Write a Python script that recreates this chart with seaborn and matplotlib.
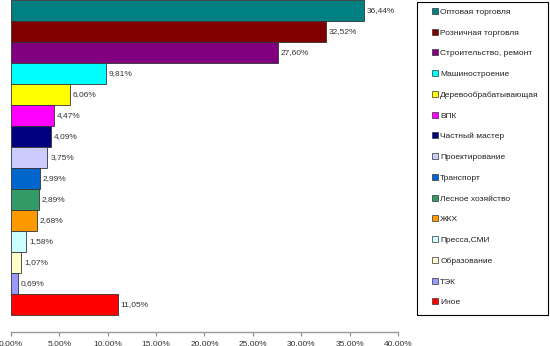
import matplotlib
matplotlib.use("Agg")
import matplotlib.pyplot as plt
from matplotlib.lines import Line2D
from matplotlib.patches import Rectangle
from matplotlib.ticker import FuncFormatter
import seaborn as sns
import pandas as pd

categories = [
    "Оптовая торговля", "Розничная торговля", "Строительство, ремонт",
    "Машиностроение", "Деревообрабатывающая", "ВПК", "Частный мастер",
    "Проектирование", "Транспорт", "Лесное хозяйство", "ЖКХ",
    "Пресса,СМИ", "Образование", "ТЭК", "Иное",
]
shares = [36.44, 32.52, 27.60, 9.81, 6.06, 4.47, 4.09, 3.75,
          2.99, 2.89, 2.68, 1.58, 1.07, 0.69, 11.05]
colors = ["#008080", "#800000", "#800080", "#00FFFF", "#FFFF00", "#FF00FF",
          "#000080", "#CCCCFF", "#0066CC", "#339966", "#FF9900", "#CCFFFF",
          "#FFFFCC", "#9999FF", "#FF0000"]
ticks = [0, 5, 10, 15, 20, 25, 30, 35, 40]

df = pd.DataFrame({"cat": categories, "share": shares})

sns.set_theme(style="white")
plt.rcParams["font.family"] = ["Liberation Sans", "DejaVu Sans"]

W, H = 550, 346
fig = plt.figure(figsize=(W / 100, H / 100), dpi=100)
ax = fig.add_axes([0.02, 0.0405, 0.7036, 0.9595])

sns.barplot(data=df, y="cat", x="share", hue="cat", palette=colors,
            order=categories, hue_order=categories, dodge=False,
            width=1.0, saturation=1, edgecolor="#333333", linewidth=0.6,
            legend=False, ax=ax)

for i, v in enumerate(shares):
    ax.text(v + 0.3, i, f"{v:.2f}%".replace(".", ","), va="center", ha="left",
            fontsize=6, color="#333333")

ax.set_xlim(0, 40)
ax.set_ylim(15.3, -0.5)
ax.set_xticks(ticks)
ax.xaxis.set_major_formatter(FuncFormatter(lambda x, p: f"{x:.2f}%".replace(".", ",")))
ax.tick_params(axis="x", labelsize=6, colors="#888888", labelcolor="#333333",
               length=3, width=0.8, direction="out", bottom=True, pad=3)
ax.set_yticks([])
ax.set_xlabel("")
ax.set_ylabel("")
for s in ["left", "top", "right"]:
    ax.spines[s].set_visible(False)
ax.spines["bottom"].set_color("#999999")
ax.spines["bottom"].set_linewidth(1.0)

# legend frame drawn separately so the entries can be inset freely
fig.patches.append(Rectangle((417 / W, 1 - 315 / H), (548 - 417) / W, (315 - 2) / H,
                             transform=fig.transFigure, facecolor="white",
                             edgecolor="#000000", linewidth=0.8, zorder=0))

handles = [Line2D([0], [0], marker="s", linestyle="none", markersize=4,
                  markerfacecolor=c, markeredgecolor="#333333", markeredgewidth=0.5)
           for c in colors]
leg = fig.legend(handles, categories, loc="upper left",
                 bbox_to_anchor=(432 / W, 1 - 8 / H), fontsize=6, frameon=False,
                 labelspacing=1.55, handlelength=0.7, handletextpad=0.3,
                 borderpad=0, borderaxespad=0)
for t in leg.get_texts():
    t.set_color("#222222")

fig.savefig("out.png", dpi=100)
